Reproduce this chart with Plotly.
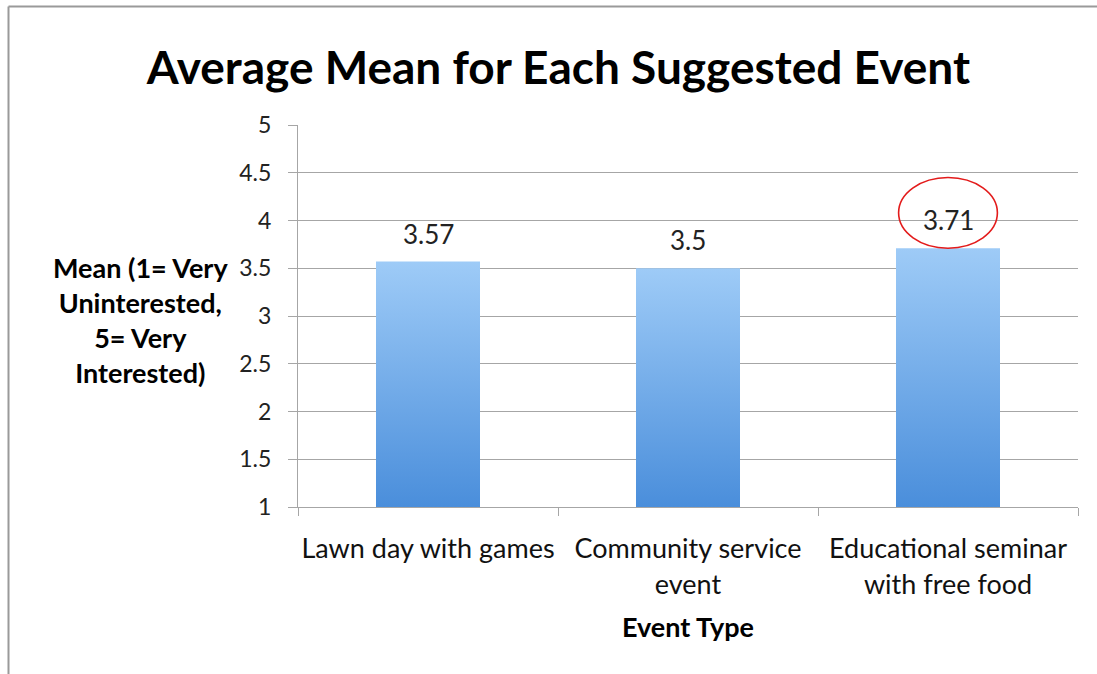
import plotly.graph_objects as go

# Survey results: mean interest score per suggested event
categories = ["Lawn day with games", "Community service<br>event", "Educational seminar<br>with free food"]
means = [3.57, 3.5, 3.71]
y_ticks = [1, 1.5, 2, 2.5, 3, 3.5, 4, 4.5, 5]
y_tick_labels = ["1", "1.5", "2", "2.5", "3", "3.5", "4", "4.5", "5"]
highlight_index = 2

FONT = "Lato"
BAR_HALF = 0.2
BASE = 1
GRID = "#a6a6a6"
PLOT_W, PLOT_H = 780, 382
M_L, M_T = 298, 125
PLOT_BOTTOM = M_T + PLOT_H

fig = go.Figure()

# bars as filled polygons so each one can carry a vertical gradient
for i, v in enumerate(means):
    fig.add_trace(go.Scatter(
        x=[i - BAR_HALF, i + BAR_HALF, i + BAR_HALF, i - BAR_HALF, i - BAR_HALF],
        y=[BASE, BASE, v, v, BASE],
        mode="lines",
        fill="toself",
        line=dict(width=0),
        fillgradient=dict(type="vertical",
                          colorscale=[[0, "#4a8edb"], [1, "#9ecbf7"]]),
        hoverinfo="skip",
        showlegend=False,
    ))
    fig.add_annotation(x=i, y=v, text=str(v), showarrow=False,
                       yanchor="bottom", yshift=10,
                       font=dict(family=FONT, size=26, color="#222"))

# red ring around the highest mean
hv = means[highlight_index]
fig.add_shape(type="circle", xref="x", yref="y",
              x0=highlight_index - 0.19, x1=highlight_index + 0.19,
              y0=hv, y1=hv + 0.74,
              line=dict(color="#e31b1b", width=1.6))

fig.update_layout(
    width=1097, height=674,
    margin=dict(l=M_L, r=19, t=M_T, b=674 - PLOT_BOTTOM),
    paper_bgcolor="white", plot_bgcolor="white",
    title=dict(text="<b>Average Mean for Each Suggested Event</b>",
               x=0.509, xanchor="center", y=0.899, yanchor="middle",
               font=dict(family=FONT, size=46, color="black")),
    xaxis=dict(
        range=[-0.5, 2.5], tickvals=[0, 1, 2], ticktext=categories,
        showgrid=False, zeroline=False,
        showline=True, linecolor=GRID, linewidth=1,
        ticks="", ticklabelstandoff=18,
        minor=dict(tickvals=[-0.5, 0.5, 1.5, 2.5], ticks="outside",
                   ticklen=8, tickcolor=GRID, showgrid=False),
        tickfont=dict(family=FONT, size=27, color="#111"),
        title=dict(text="<b>Event Type</b>", standoff=19,
                   font=dict(family=FONT, size=27, color="black")),
        fixedrange=True,
    ),
    yaxis=dict(
        range=[1, 5], tickvals=y_ticks, ticktext=y_tick_labels,
        showgrid=True, gridcolor=GRID, gridwidth=1,
        zeroline=False,
        showline=True, linecolor=GRID, linewidth=1,
        ticks="outside", ticklen=9, tickcolor=GRID,
        ticklabelstandoff=12,
        tickfont=dict(family=FONT, size=23, color="#222"),
        fixedrange=True,
    ),
    showlegend=False,
)

# horizontal y-axis caption
fig.add_annotation(
    xref="paper", yref="paper", x=(140 - M_L) / PLOT_W, y=(PLOT_BOTTOM - 320) / PLOT_H,
    xanchor="center", yanchor="middle",
    text="<b>Mean (1= Very<br>Uninterested,<br>5= Very<br>Interested)</b>",
    showarrow=False, align="center",
    font=dict(family=FONT, size=27, color="black"),
)

# frame lines along the top and left of the page
fx = (8.5 - M_L) / PLOT_W
fy = (PLOT_BOTTOM - 6.5) / PLOT_H
fig.add_shape(type="line", xref="paper", yref="paper",
              x0=fx, x1=2, y0=fy, y1=fy,
              line=dict(color="#9a9a9a", width=2))
fig.add_shape(type="line", xref="paper", yref="paper",
              x0=fx, x1=fx, y0=fy, y1=-2,
              line=dict(color="#9a9a9a", width=2))

fig.write_html("out.html", config=dict(displayModeBar=False))
